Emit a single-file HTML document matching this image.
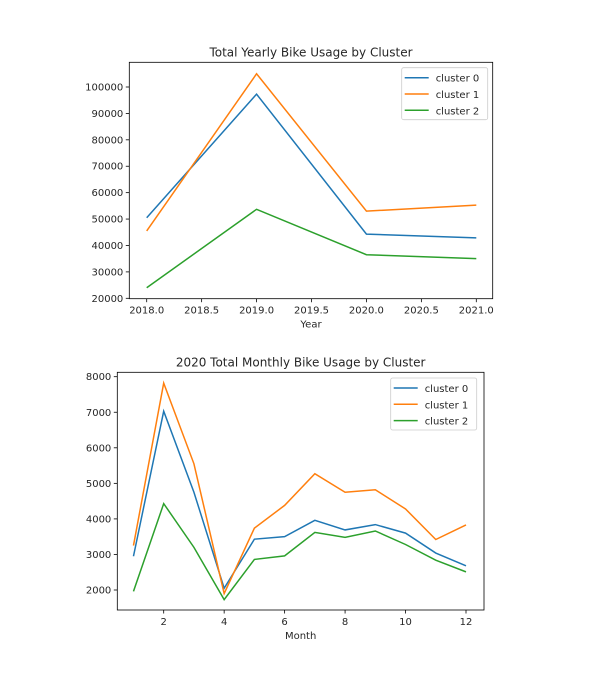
<!DOCTYPE html>
<html><head><meta charset="utf-8"><style>
body{margin:0;background:#fff}
svg text{font-family:"DejaVu Sans","Liberation Sans",sans-serif;fill:#262626}
</style></head><body>
<svg id="s" width="602" height="675" xmlns="http://www.w3.org/2000/svg"></svg>
<script>
const years=[2018,2019,2020,2021];
const yearlyC0=[50500,97300,44300,42900];
const yearlyC1=[45500,105000,53000,55300];
const yearlyC2=[24000,53700,36500,35000];
const yearTicks=[2018.0,2018.5,2019.0,2019.5,2020.0,2020.5,2021.0];
const yearlyYTicks=[20000,30000,40000,50000,60000,70000,80000,90000,100000];
const months=[1,2,3,4,5,6,7,8,9,10,11,12];
const monthlyC0=[2950,7030,4750,2050,3430,3500,3960,3690,3840,3600,3040,2680];
const monthlyC1=[3250,7820,5550,1900,3740,4380,5270,4750,4820,4280,3420,3830];
const monthlyC2=[1960,4430,3200,1730,2860,2960,3620,3480,3660,3280,2840,2510];
const monthTicks=[2,4,6,8,10,12];
const monthlyYTicks=[2000,3000,4000,5000,6000,7000,8000];
const seriesNames=["cluster 0","cluster 1","cluster 2"];
const colors=["#1f77b4","#ff7f0e","#2ca02c"];
const svg=document.getElementById('s');
const NS="http://www.w3.org/2000/svg";
function mk(t,a,p){const e=document.createElementNS(NS,t);for(const k in a)e.setAttribute(k,a[k]);(p||svg).appendChild(e);return e;}
function chart(o){
 const g=mk('g',{});
 
 
 const X=v=>o.x0+(v-o.dx0)*(o.x1-o.x0)/(o.dx1-o.dx0);
 const Y=v=>o.y0+(v-o.dy0)*(o.y1-o.y0)/(o.dy1-o.dy0);
 o.xt.forEach(v=>{const x=X(v);mk('line',{x1:x,x2:x,y1:o.B,y2:o.B+3.5,stroke:'#000','stroke-width':0.8},g);
  const t=mk('text',{x:x,y:o.B+15,'text-anchor':'middle','font-size':10},g);t.textContent=o.xf(v);
  });
 o.yt.forEach(v=>{const y=Y(v);mk('line',{x1:o.L-3.5,x2:o.L,y1:y,y2:y,stroke:'#000','stroke-width':0.8},g);
  const t=mk('text',{x:o.L-6,y:y+3.5,'text-anchor':'end','font-size':10},g);t.textContent=v;
  });
 o.series.forEach((s,i)=>{const p=mk('polyline',{points:o.xs.map((v,j)=>X(v)+','+Y(s[j])).join(' '),fill:'none',stroke:colors[i],'stroke-width':1.5},g);
  });
 const fr=mk('rect',{x:o.L,y:o.T,width:o.R-o.L,height:o.B-o.T,fill:'none',stroke:'#000','stroke-width':0.8},g);
 
 const tt=mk('text',{x:(o.L+o.R)/2,y:o.T-6,'text-anchor':'middle','font-size':12},g);tt.textContent=o.title;
 
 const xl=mk('text',{x:(o.L+o.R)/2,y:o.B+29,'text-anchor':'middle','font-size':10},g);xl.textContent=o.xlabel;
 
 const lg=mk('g',{},g);
 mk('rect',{x:o.lx,y:o.ly,width:86,height:52,rx:2,fill:'#fff',stroke:'#ccc','stroke-width':0.8},lg);
 seriesNames.forEach((n,i)=>{const yy=o.ly+10+i*16.3;
  mk('line',{x1:o.lx+3,x2:o.lx+27,y1:yy,y2:yy,stroke:colors[i],'stroke-width':1.5},lg);
  const t=mk('text',{x:o.lx+34,y:yy+4,'font-size':10},lg);t.textContent=n;
  });
}
chart({name:'yearly-chart',L:129.3,R:492.7,T:62.3,B:298.7,x0:146.7,x1:476.3,dx0:2018,dx1:2021,y0:298.3,y1:87,dy0:20000,dy1:100000,
 xt:yearTicks,yt:yearlyYTicks,xf:v=>v.toFixed(1),xs:years,series:[yearlyC0,yearlyC1,yearlyC2],
 title:'Total Yearly Bike Usage by Cluster',xlabel:'Year',lx:401.7,ly:67.7});
chart({name:'monthly-chart',L:117.3,R:484,T:372.3,B:610,x0:163.7,x1:466,dx0:2,dx1:12,y0:590,y1:376.7,dy0:2000,dy1:8000,
 xt:monthTicks,yt:monthlyYTicks,xf:v=>String(v),xs:months,series:[monthlyC0,monthlyC1,monthlyC2],
 title:'2020 Total Monthly Bike Usage by Cluster',xlabel:'Month',lx:390.7,ly:378});
</script>
</body></html>
